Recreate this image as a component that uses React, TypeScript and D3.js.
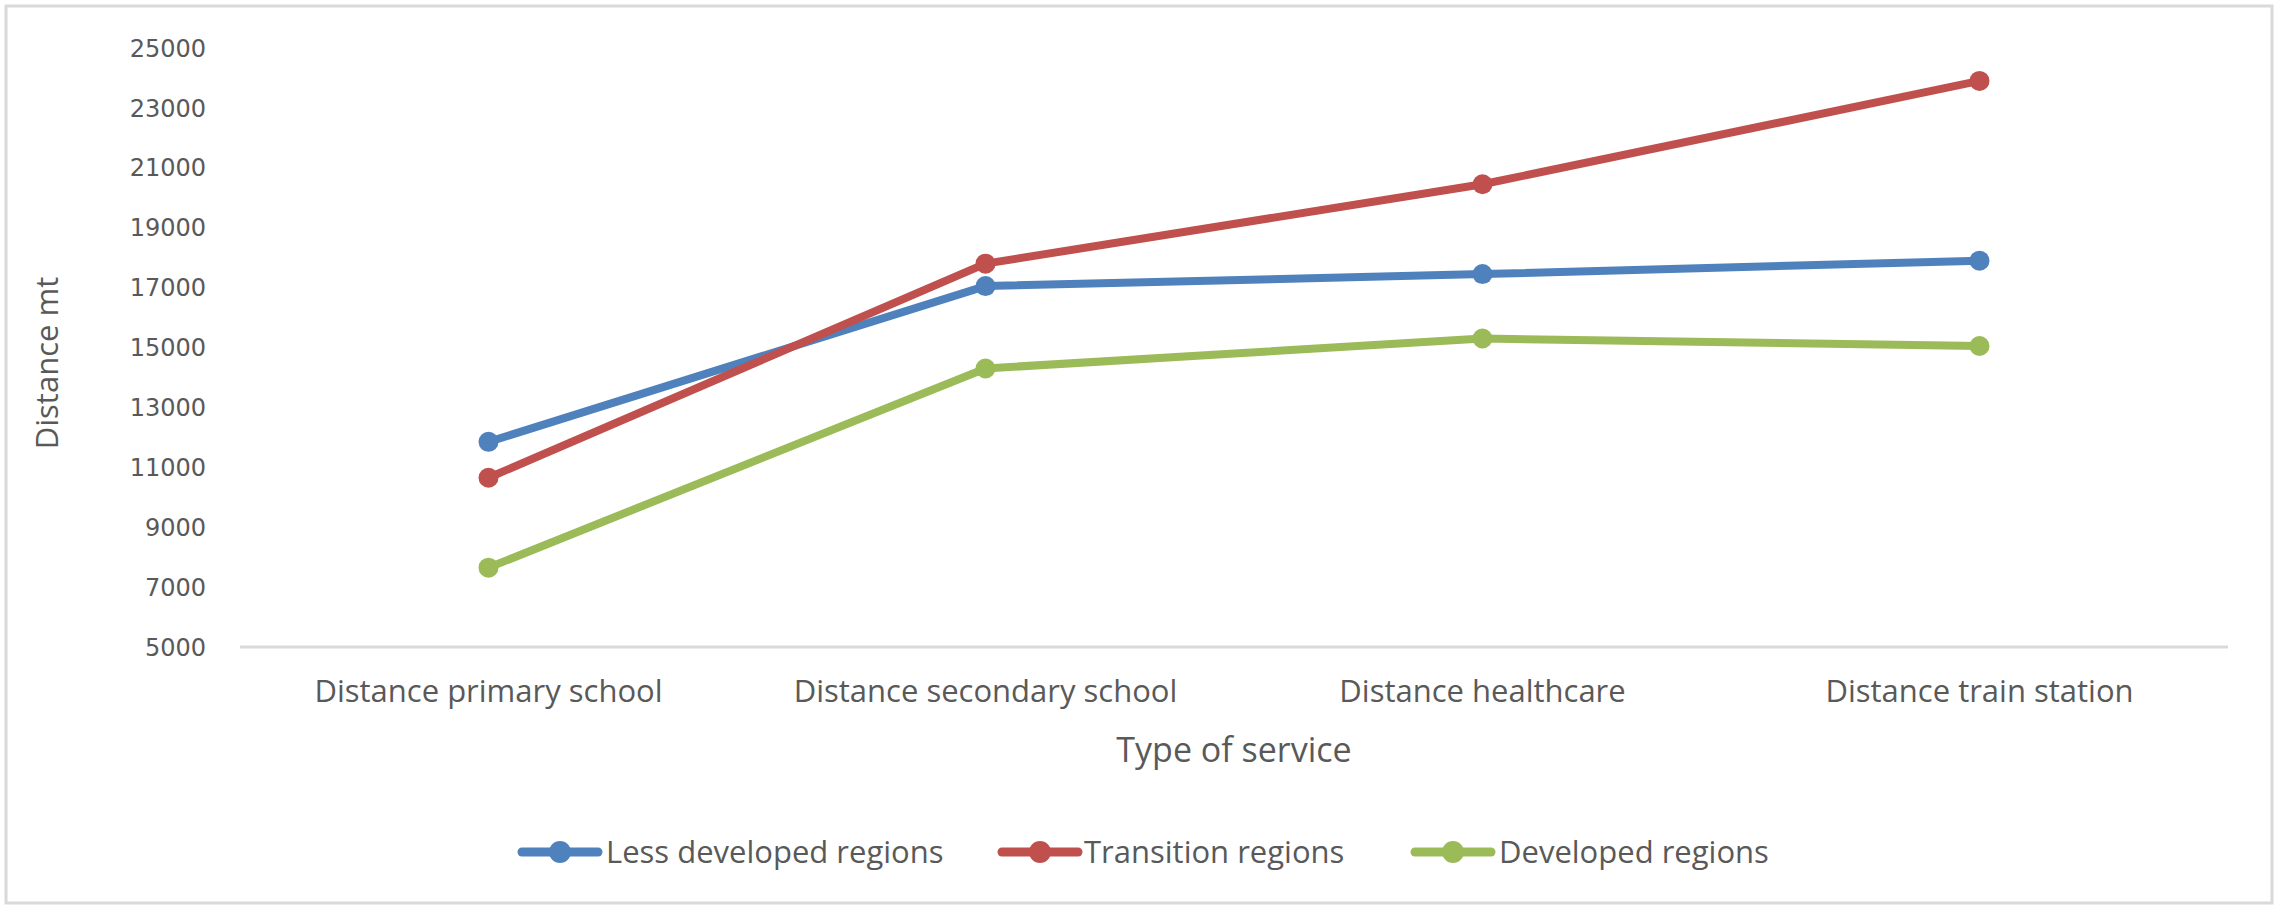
import React from "react";
import * as d3 from "d3";

const categories = [
  "Distance primary school",
  "Distance secondary school",
  "Distance healthcare",
  "Distance train station",
];

const lessDeveloped = [11850, 17050, 17450, 17900];
const transition = [10650, 17800, 20450, 23900];
const developed = [7650, 14300, 15300, 15050];

const seriesNames = ["Less developed regions", "Transition regions", "Developed regions"];
const seriesColors = ["#4F81BD", "#C0504D", "#9BBB59"];
const yTicks = [5000, 7000, 9000, 11000, 13000, 15000, 17000, 19000, 21000, 23000, 25000];

const W = 2279;
const H = 908;
const plot = { left: 240, right: 2228, top: 48, bottom: 647 };
const labelFont = "'Open Sans', 'Roboto', sans-serif";
const tickFont = "'DejaVu Sans', sans-serif";
const textColor = "#595959";

export default function App() {
  const x = d3
    .scalePoint<string>()
    .domain(categories)
    .range([plot.left, plot.right])
    .padding(0.5);
  const y = d3.scaleLinear().domain([5000, 25000]).range([plot.bottom, plot.top]);

  const series = [lessDeveloped, transition, developed].map((values, i) => ({
    name: seriesNames[i],
    color: seriesColors[i],
    points: values.map((v, j) => ({ cat: categories[j], v })),
  }));

  const line = d3
    .line<{ cat: string; v: number }>()
    .x((d) => x(d.cat) as number)
    .y((d) => y(d.v));

  const legendItems = [
    { lineStart: 518, textX: 606 },
    { lineStart: 998, textX: 1084 },
    { lineStart: 1411, textX: 1499 },
  ];
  const legendY = 852;

  return (
    <svg
      width={W}
      height={H}
      style={{ position: "absolute", left: 0, top: 0, background: "#fff" }}
    >
      <rect x={6} y={6} width={2266} height={897} fill="#fff" stroke="#d9d9d9" strokeWidth={3} />

      {yTicks.map((t) => (
        <text
          key={t}
          x={206}
          y={y(t)}
          dy="0.36em"
          textAnchor="end"
          fontFamily={tickFont}
          fontSize={24}
          fill={textColor}
        >
          {t}
        </text>
      ))}

      <line
        x1={plot.left}
        x2={plot.right}
        y1={plot.bottom}
        y2={plot.bottom}
        stroke="#d9d9d9"
        strokeWidth={3}
      />

      {categories.map((c) => (
        <text
          key={c}
          x={x(c)}
          y={702}
          textAnchor="middle"
          fontFamily={labelFont}
          fontSize={31}
          fill={textColor}
        >
          {c}
        </text>
      ))}

      <text
        x={(plot.left + plot.right) / 2}
        y={762}
        textAnchor="middle"
        fontFamily={labelFont}
        fontSize={34}
        fill={textColor}
      >
        Type of service
      </text>

      <text
        transform={`translate(47, 363) rotate(-90)`}
        dy="0.36em"
        textAnchor="middle"
        fontFamily={labelFont}
        fontSize={31}
        fill={textColor}
      >
        Distance mt
      </text>

      {series.map((s) => (
        <g key={s.name}>
          <path
            d={line(s.points) || ""}
            fill="none"
            stroke={s.color}
            strokeWidth={8}
            strokeLinejoin="round"
          />
          {s.points.map((p) => (
            <circle key={p.cat} cx={x(p.cat)} cy={y(p.v)} r={10} fill={s.color} />
          ))}
        </g>
      ))}

      {series.map((s, i) => (
        <g key={s.name}>
          <line
            x1={legendItems[i].lineStart + 4}
            x2={legendItems[i].lineStart + 80}
            y1={legendY}
            y2={legendY}
            stroke={s.color}
            strokeWidth={9}
            strokeLinecap="round"
          />
          <circle cx={legendItems[i].lineStart + 42} cy={legendY} r={11} fill={s.color} />
          <text
            x={legendItems[i].textX}
            y={legendY}
            dy="0.36em"
            fontFamily={labelFont}
            fontSize={31}
            fill={textColor}
          >
            {s.name}
          </text>
        </g>
      ))}
    </svg>
  );
}
